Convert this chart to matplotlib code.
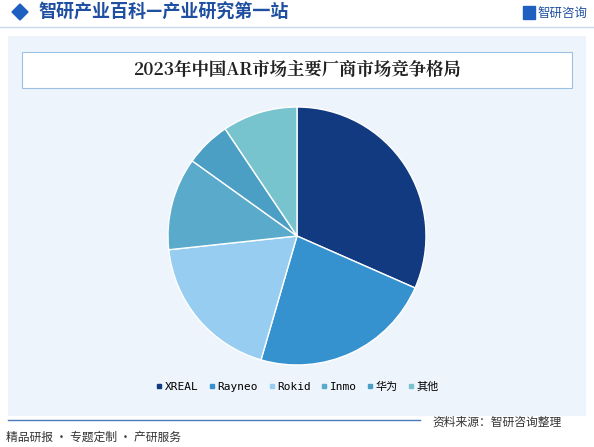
import matplotlib
matplotlib.use("Agg")
import matplotlib.pyplot as plt
from matplotlib.patches import Rectangle, Polygon

plt.rcParams['font.family'] = ['Noto Sans CJK SC', 'DejaVu Sans']

vendors = ["XREAL", "Rayneo", "Rokid", "Inmo", "华为", "其他"]
shares = [31.6, 22.9, 18.8, 11.6, 5.7, 9.4]
colors = ["#123a80", "#3592cf", "#96cdf0", "#5aaacb", "#4c9fc4", "#77c4cf"]

W, H = 594, 447
fig = plt.figure(figsize=(W / 100, H / 100), dpi=100)
bg = fig.add_axes([0, 0, 1, 1])
bg.set_xlim(0, W)
bg.set_ylim(H, 0)
bg.axis("off")

# header
bg.add_patch(Polygon([(12, 12), (20, 4), (28, 12), (20, 20)], color="#1f5fbf"))
bg.text(38, 12, "智研产业百科—产业研究第一站", fontsize=13, color="#1f4fa0",
        fontweight="bold", va="center")
bg.text(588, 13, "智研咨询", fontsize=9, color="#1f4fa0", va="center", ha="right")
bg.add_patch(Rectangle((523, 6), 12, 13, color="#1f5fbf"))
bg.plot([0, W], [27, 27], color="#c8d8ec", lw=1)

# panel
bg.add_patch(Rectangle((8, 36), 578, 380, facecolor="#eef4fb", edgecolor="none"))
bg.add_patch(Rectangle((22, 52), 550, 36, facecolor="white", edgecolor="#9cbfe6", lw=0.8))
bg.text(297, 70, "2023年中国AR市场主要厂商市场竞争格局", fontsize=12.5, fontweight="bold",
        ha="center", va="center", color="#222222",
        family=["Noto Serif CJK SC", "Noto Sans CJK SC", "DejaVu Sans"])

# footer
bg.plot([8, 420], [420, 420], color="#4a78b8", lw=1)
bg.text(6, 437, "精品研报 · 专题定制 · 产研服务", fontsize=8.5, color="#333333", va="center")
bg.text(432, 422, "资料来源：智研咨询整理", fontsize=8.5, color="#333333", va="center")

# pie
R = 129
ax = fig.add_axes([(297 - R) / W, 1 - (236 + R) / H, 2 * R / W, 2 * R / H])
ax.pie(shares, colors=colors, startangle=90, counterclock=False,
       wedgeprops=dict(edgecolor="white", linewidth=1))
ax.set_xlim(-1, 1)
ax.set_ylim(-1, 1)
ax.set_aspect("equal")

handles = [plt.Line2D([], [], marker="s", ls="", color=c, markersize=2.5) for c in colors]
fig.legend(handles, vendors, loc="center", bbox_to_anchor=(297 / W, 1 - 387 / H),
           ncol=6, frameon=False, handletextpad=0.1, columnspacing=0.8, handlelength=0.8,
           prop={"family": ["DejaVu Sans Mono", "Noto Sans CJK SC"], "size": 8})

fig.savefig("out.png", dpi=100)
